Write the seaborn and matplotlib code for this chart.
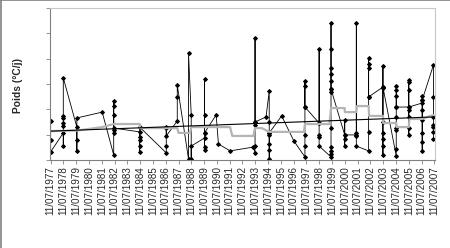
import matplotlib
matplotlib.use("Agg")
import matplotlib.pyplot as plt
import seaborn as sns
import pandas as pd
import numpy as np
from matplotlib.lines import Line2D

sns.set_style("white")
plt.rcParams['font.family'] = ['Liberation Sans', 'DejaVu Sans']

# Tick labels (one per year)
years = list(range(1977, 2008))
tick_labels = [f"11/07/{y}" for y in years]

# Measurement series (x = years since 11/07/1977), in drawing order
obs_x = (
    [0.0]*3 + [0.99]*7 + [2.05]*4 + [4.03] + [4.93]*7 + [6.96]*6 + [9.04]*5 +
    [9.9]*3 + [10.78]*2 + [10.99]*3 + [12.03]*7 + [12.94, 13.12, 14.03, 15.85] +
    [15.98]*6 + [16.84] + [17.09]*8 + [18.06, 19.02] + [19.88]*7 + [20.99]*6 +
    [21.92]*13 + [22.99]*5 + [23.9]*5 + [24.86]*7 + [25.98]*9 + [27.02]*10 +
    [28.0]*9 + [29.05]*9 + [29.93]*7
)
obs_y = (
    [1.54, 0.79, 0.32] +
    [1.07, 0.55, 1.34, 1.46, 1.66, 1.74, 3.24] +
    [1.30, 0.79, 0.36, 1.66] +
    [1.89] +
    [0.20, 2.33, 2.13, 1.78, 1.07, 1.18, 1.26] +
    [1.11, 0.55, 0.32, 0.79, 0.91, 1.30] +
    [0.28, 0.55, 1.30, 1.26, 0.95] +
    [1.54, 2.49, 2.96] +
    [0.04, 4.22] +
    [1.78, 0.04, 0.55] +
    [0.87, 0.39, 0.51, 1.07, 1.78, 3.20, 1.07] +
    [1.78, 0.63, 0.36, 0.51] +
    [0.28, 0.55, 1.38, 1.50, 4.82, 1.50] +
    [1.70] +
    [2.72, 1.50, 1.07, 0.99, 0.39, 0.04, 0.63, 1.07] +
    [1.74, 0.75] +
    [0.12, 0.55, 0.99, 2.09, 2.92, 3.12, 2.09] +
    [1.46, 4.38, 1.46, 0.99, 0.91, 0.55] +
    [0.12, 0.24, 0.36, 0.51, 1.26, 2.68, 2.80, 3.12, 3.40, 3.63, 4.38, 5.41, 2.80] +
    [0.99, 1.58, 0.83, 0.55, 0.99] +
    [0.99, 5.41, 1.07, 0.95, 0.55] +
    [0.36, 1.11, 2.49, 3.63, 3.79, 4.03, 2.49] +
    [2.88, 3.71, 2.84, 1.50, 1.07, 0.83, 0.55, 0.20, 2.88] +
    [0.16, 0.43, 1.18, 1.26, 1.70, 2.09, 2.53, 2.76, 2.92, 2.09] +
    [2.09, 0.99, 1.26, 1.70, 1.97, 2.76, 3.08, 3.16, 2.09] +
    [2.25, 0.36, 0.71, 1.07, 1.58, 1.97, 2.37, 2.53, 2.37] +
    [3.75, 2.49, 1.70, 1.38, 1.30, 1.11, 0.83]
)

# Moving average (grey)
avg_x = [0, 2.05, 4.03, 4.93, 6.96, 7.0, 9.9, 10.0, 10.9, 11.0, 14.03, 14.2, 15.85,
         15.98, 16.5, 17.09, 19.8, 19.88, 21.8, 21.92, 22.99, 23.0, 23.9, 23.95,
         24.86, 24.9, 25.98, 26.0, 27.02, 27.05, 28.0, 28.05, 29.05, 29.93]
avg_y = [1.14, 1.16, 1.30, 1.42, 1.42, 1.26, 1.26, 1.07, 1.07, 1.30, 1.30, 0.95, 0.95,
         1.26, 1.26, 1.11, 1.11, 1.42, 1.42, 2.05, 2.05, 1.89, 1.89, 2.13,
         2.13, 1.74, 1.74, 1.46, 1.46, 1.30, 1.30, 1.62, 1.62, 1.78]

# Linear trend
trend_x = [0, 29.93]
trend_y = [1.14, 1.70]

obs = pd.DataFrame({"x": obs_x, "y": obs_y})
avg = pd.DataFrame({"x": avg_x, "y": avg_y})
trend = pd.DataFrame({"x": trend_x, "y": trend_y})

fig = plt.figure(figsize=(4.5, 2.48), dpi=100)
ax = fig.add_axes([50/450, 1-160/248, 385/450, 152/248])

sns.lineplot(data=obs, x="x", y="y", sort=False, estimator=None, ax=ax,
             color="black", lw=0.6, marker="D", markersize=2.0,
             markeredgecolor="black", markerfacecolor="black")
sns.lineplot(data=avg, x="x", y="y", sort=False, estimator=None, ax=ax,
             color="#b4b4b4", lw=1.6)
sns.lineplot(data=trend, x="x", y="y", sort=False, estimator=None, ax=ax,
             color="black", lw=0.8)

ax.set_xlim(-0.05, 30.05)
ax.set_ylim(0, 6)
ax.set_xticks(range(len(years)))
ax.set_xticklabels(tick_labels, rotation=90, fontsize=7.1)
ax.set_yticks(range(7))
ax.set_yticklabels([])
ax.tick_params(axis="both", direction="out", length=3, width=0.6,
               color="#808080", pad=1.5, left=True, bottom=True)
ax.set_xlabel("")
ax.set_ylabel("Poids (°C/j)", fontsize=7.4, fontweight="bold")
ax.yaxis.set_label_coords(-0.070, 0.49)

for s in ["left", "bottom"]:
    ax.spines[s].set_color("#808080")
    ax.spines[s].set_linewidth(0.8)
for s in ["top", "right"]:
    ax.spines[s].set_color("#c8c8c8")
    ax.spines[s].set_linewidth(0.8)

fig.add_artist(Line2D([0, 1], [0.998, 0.998], transform=fig.transFigure, color="#808080", lw=1.2))
fig.add_artist(Line2D([0.002, 0.002], [0, 1], transform=fig.transFigure, color="#808080", lw=1.2))

fig.savefig("out.png", dpi=100)
